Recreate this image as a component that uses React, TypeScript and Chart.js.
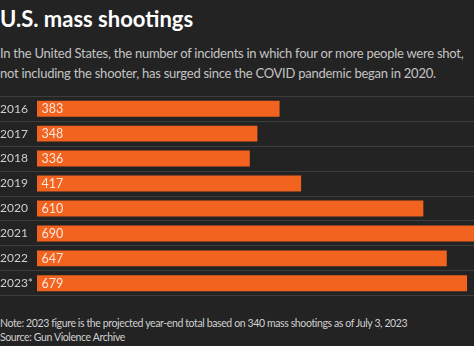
import React, { useEffect, useRef } from "react";
import { Chart, registerables } from "chart.js";

Chart.register(...registerables);

const years: string[] = ["2016", "2017", "2018", "2019", "2020", "2021", "2022", "2023*"];
const shootings: number[] = [383, 348, 336, 417, 610, 690, 647, 679];

const title = "U.S. mass shootings";
const subtitleLines: string[] = [
  "In the United States, the number of incidents in which four or more people were shot,",
  "not including the shooter, has surged since the COVID pandemic began in 2020.",
];
const noteText = "Note: 2023 figure is the projected year-end total based on 340 mass shootings as of July 3, 2023";
const sourceText = "Source: Gun Violence Archive";

const FONT = "Lato, 'Source Sans Pro', 'Open Sans', sans-serif";
const BG = "#232323";
const BAR = "#f2631f";

const valueLabels = {
  id: "valueLabels",
  afterDatasetsDraw(chart: any) {
    const ctx = chart.ctx;
    const meta = chart.getDatasetMeta(0);
    ctx.save();
    ctx.font = `12.5px ${FONT}`;
    ctx.fillStyle = "#fde6da";
    ctx.textAlign = "left";
    ctx.textBaseline = "middle";
    meta.data.forEach((bar: any, i: number) => {
      const v = chart.data.datasets[0].data[i];
      ctx.fillText(String(v), bar.base + 4.5, bar.y + 0.5);
    });
    ctx.restore();
  },
};

export default function App() {
  const ref = useRef<HTMLCanvasElement | null>(null);
  useEffect(() => {
    if (!ref.current) return;
    const chart = new Chart(ref.current, {
      type: "bar",
      data: {
        labels: years,
        datasets: [
          {
            data: shootings,
            backgroundColor: BAR,
            borderWidth: 0,
            categoryPercentage: 1,
            barPercentage: 0.64,
          },
        ],
      },
      options: {
        indexAxis: "y",
        animation: false,
        responsive: false,
        maintainAspectRatio: false,
        layout: { padding: 0 },
        plugins: { legend: { display: false }, tooltip: { enabled: false } },
        scales: {
          x: { display: false, min: 0, max: 690 },
          y: {
            offset: true,
            grid: {
              offset: true,
              color: "#3d3d3d",
              lineWidth: 1,
              drawTicks: true,
              tickLength: 37,
            },
            border: { display: false },
            ticks: {
              color: "#cfcfcf",
              font: { family: FONT, size: 12 },
              crossAlign: "far",
              padding: 0,
            },
            afterFit(scale: any) {
              scale.width = 37;
            },
          },
        },
      },
      plugins: [valueLabels],
    });
    return () => chart.destroy();
  }, []);

  return (
    <div
      style={{
        position: "fixed",
        left: 0,
        top: 0,
        width: 474,
        height: 346,
        background: BG,
        fontFamily: FONT,
        overflow: "hidden",
      }}
    >
      <div
        style={{
          position: "absolute",
          left: 0,
          top: 6,
          fontSize: 22,
          fontWeight: 700,
          color: "#ffffff",
          whiteSpace: "nowrap",
          lineHeight: "26px",
        }}
      >
        {title}
      </div>
      <div
        style={{
          position: "absolute",
          left: 0,
          top: 43,
          fontSize: 13,
          letterSpacing: "-0.25px",
          color: "#c4c4c4",
          whiteSpace: "nowrap",
          lineHeight: "20px",
        }}
      >
        {subtitleLines.map((l, i) => (
          <div key={i}>{l}</div>
        ))}
      </div>
      <canvas
        ref={ref}
        width={474}
        height={214}
        style={{ position: "absolute", left: 0, top: 89, width: 474, height: 214 }}
      />
      <div
        style={{
          position: "absolute",
          left: 0,
          top: 316,
          fontSize: 10.5,
          letterSpacing: "-0.38px",
          color: "#d0d0d0",
          whiteSpace: "nowrap",
          lineHeight: "14px",
        }}
      >
        <div>{noteText}</div>
        <div>{sourceText}</div>
      </div>
    </div>
  );
}
